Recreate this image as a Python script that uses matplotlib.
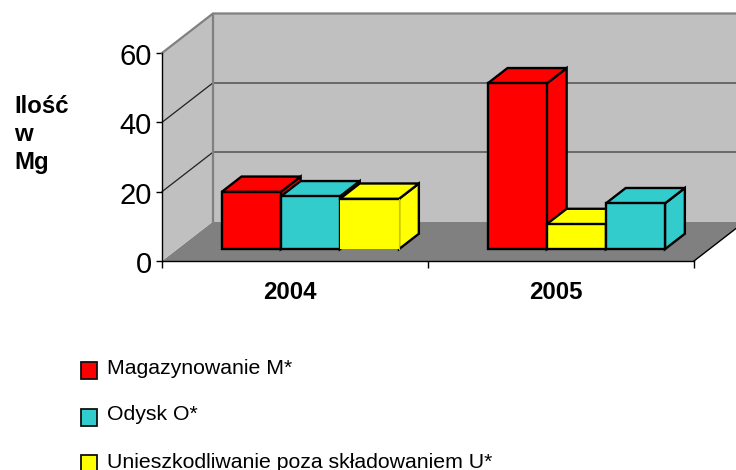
import matplotlib
matplotlib.use('Agg')
import matplotlib.pyplot as plt
from matplotlib.patches import Polygon, Rectangle
from matplotlib.transforms import Affine2D

plt.rcParams['font.family'] = ['Liberation Sans', 'DejaVu Sans']

years = ['2004', '2005']
magazynowanie = [16.5, 47.8]
odzysk = [15.2, 13.2]
unieszkodliwianie = [14.5, 7.2]
yticks = [0, 20, 40, 60]
ylabel_lines = ['Ilość', 'w', 'Mg']
legend_labels = ['Magazynowanie M*', 'Odysk O*', 'Unieszkodliwanie poza składowaniem U*']

RED = '#ff0000'
TEAL = '#33cccc'
YELLOW = '#ffff00'
legend_colors = [RED, TEAL, YELLOW]

W, H = 736, 470
fig = plt.figure(figsize=(W / 100, H / 100), dpi=100)
ax = fig.add_axes([162 / W, 1 - 261 / H, 532 / W, 208 / H])
ax.set_xlim(0, 2)
ax.set_ylim(0, 60)
ax.patch.set_visible(False)

# oblique depth: one unit of depth moves this far in data units
DX = 51 / 266
DY = 39.5 / 3.467


def pr(x, y, d):
    return (x + d * DX, y + d * DY)


def face(pts, color, ec='none', lw=0, z=1):
    ax.add_patch(Polygon(pts, closed=True, fc=color, ec=ec, lw=lw, zorder=z,
                         joinstyle='miter', clip_on=False))


def seg(pts, color, lw, z=2):
    ax.plot([p[0] for p in pts], [p[1] for p in pts], color=color, lw=lw, zorder=z, clip_on=False)


# walls and floor
face([pr(0, 0, 0), pr(2, 0, 0), pr(2, 0, 1), pr(0, 0, 1)], '#808080')
face([pr(0, 0, 0), pr(0, 0, 1), pr(0, 60, 1), pr(0, 60, 0)], '#c0c0c0')
face([pr(0, 0, 1), pr(2, 0, 1), pr(2, 60, 1), pr(0, 60, 1)], '#c0c0c0')
for v in yticks[1:-1]:
    seg([pr(0, v, 0), pr(0, v, 1)], '#202020', 0.9)
    seg([pr(0, v, 1), pr(2, v, 1)], '#505050', 1.1)
# wall outline
seg([pr(0, 60, 0), pr(0, 60, 1), pr(2, 60, 1)], '#808080', 1.6)
seg([pr(0, 60, 1), pr(0, 0, 1)], '#808080', 1.6)
seg([pr(2, 0, 0), pr(2, 0, 1)], 'black', 1)

# bars, in the order they stand in each group
BAR_W = 1 / 4.5
GAP = 0.75 * BAR_W
D0, D1 = 0.3, 0.69
EDGE = 1.7
groups = [
    [(magazynowanie[0], RED), (odzysk[0], TEAL), (unieszkodliwianie[0], YELLOW)],
    [(magazynowanie[1], RED), (unieszkodliwianie[1], YELLOW), (odzysk[1], TEAL)],
]
z = 3
for i, group in enumerate(groups):
    for j, (val, col) in enumerate(group):
        x0 = i + GAP + j * BAR_W
        x1 = x0 + BAR_W
        face([pr(x1, 0, D0), pr(x1, 0, D1), pr(x1, val, D1), pr(x1, val, D0)], col, 'black', EDGE, z)
        face([pr(x0, val, D0), pr(x1, val, D0), pr(x1, val, D1), pr(x0, val, D1)], col, 'black', EDGE, z)
        front = [pr(x0, 0, D0), pr(x1, 0, D0), pr(x1, val, D0), pr(x0, val, D0)]
        # 2004 yellow front has no black outline in the original
        if i == 0 and j == 2:
            face(front, col, z=z)
            seg([front[3], front[2]], 'black', EDGE, z)
            seg([front[1], front[2]], '#c8c800', 0.8, z)
        else:
            face(front, col, 'black', EDGE, z)
        z += 1

for s in ['top', 'right']:
    ax.spines[s].set_visible(False)
for s in ['left', 'bottom']:
    ax.spines[s].set_linewidth(1)
    ax.spines[s].set_zorder(20)

ax.set_yticks(yticks)
ax.tick_params(axis='y', labelsize=21, length=4.3, width=1, pad=3)
for t in ax.get_yticklabels():
    t.set_transform(t.get_transform() + Affine2D().translate(0, -1))
ax.set_xticks([0, 1, 2], ['', '', ''])
ax.tick_params(axis='x', which='major', length=5, width=1)
ax.set_xticks([0.48, 1.48], years, minor=True)
ax.tick_params(axis='x', which='minor', length=0, labelsize=17.3, pad=14.3)
for t in ax.get_xticklabels(minor=True):
    t.set_fontweight('bold')

for line, y in zip(ylabel_lines, [113, 141, 169]):
    fig.text(14 / W, 1 - y / H, line, fontsize=17.3, fontweight='bold', va='baseline')

# legend rows: key and text do not share a centre in the original
for label, col, key_top, text_y in zip(legend_labels, legend_colors, [362, 409, 455], [369, 415, 462]):
    fig.add_artist(Rectangle((80.5 / W, 1 - (key_top + 17) / H), 16.5 / W, 17 / H, fc=col, ec='#101010',
                             lw=1.3, transform=fig.transFigure))
    fig.text(107 / W, 1 - text_y / H, label, fontsize=15.3, va='center')

fig.savefig('out.png', dpi=100)
